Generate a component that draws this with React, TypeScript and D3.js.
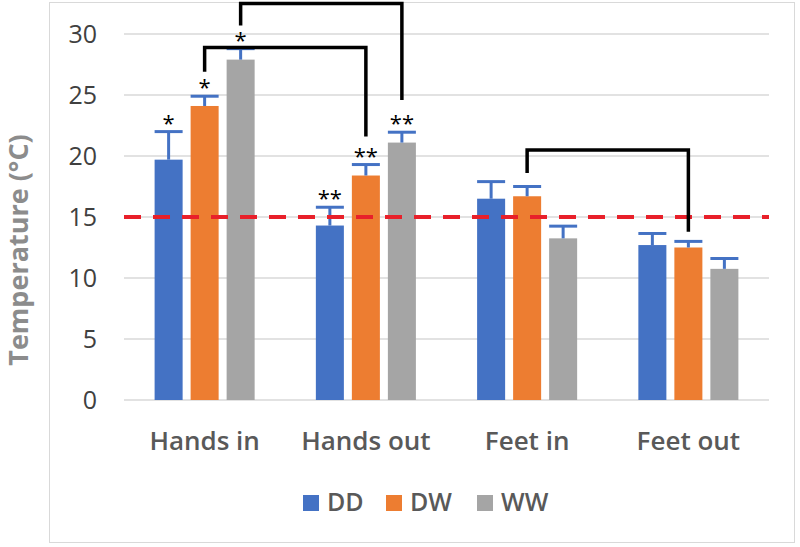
import React, { useEffect, useRef } from 'react';
import * as d3 from 'd3';

const categories = ["Hands in", "Hands out", "Feet in", "Feet out"];
const seriesNames = ["DD", "DW", "WW"];
const seriesColors = ["#4472C4", "#ED7D31", "#A5A5A5"];

// mean temperature per category, one array per group
const ddValues = [19.7, 14.3, 16.5, 12.7];
const dwValues = [24.1, 18.4, 16.7, 12.5];
const wwValues = [27.9, 21.1, 13.25, 10.75];

// upper error (SD) per category
const ddErrors = [2.3, 1.5, 1.4, 0.95];
const dwErrors = [0.8, 0.9, 0.8, 0.5];
const wwErrors = [0.9, 0.85, 1.0, 0.85];

// significance marks above error bars
const ddStars = ["*", "**", "", ""];
const dwStars = ["*", "**", "", ""];
const wwStars = ["*", "**", "", ""];

const yTicks = [0, 5, 10, 15, 20, 25, 30];
const threshold = 15;

// comparison brackets: [category, series] -> [category, series], heights in °C
const brackets = [
    { fromCat: "Hands in", fromSeries: "DW", toCat: "Hands out", toSeries: "DW", startY: 26.9, top: 28.9, endY: 21.6 },
    { fromCat: "Hands in", fromSeries: "WW", toCat: "Hands out", toSeries: "WW", startY: 30.7, top: 32.5, endY: 24.6 },
    { fromCat: "Feet in", fromSeries: "DW", toCat: "Feet out", toSeries: "DW", startY: 18.6, top: 20.5, endY: 13.8 },
];

const App = () => {
    const svgRef = useRef<SVGSVGElement | null>(null);

    useEffect(() => {
        const width = 800;
        const height = 547;
        const font = "'Open Sans', sans-serif";

        const svg = d3.select(svgRef.current);
        svg.selectAll("*").remove();
        svg.attr("width", width).attr("height", height);

        const values = [ddValues, dwValues, wwValues];
        const errors = [ddErrors, dwErrors, wwErrors];
        const stars = [ddStars, dwStars, wwStars];

        const data = categories.flatMap((c, ci) =>
            seriesNames.map((s, si) => ({
                cat: c,
                series: s,
                color: seriesColors[si],
                value: values[si][ci],
                err: errors[si][ci],
                star: stars[si][ci],
            }))
        );

        const x0 = d3.scaleBand().domain(categories).range([124, 769]).padding(0);
        const x1 = d3.scaleBand().domain(seriesNames).range([0, x0.bandwidth()])
            .paddingInner(0.222).paddingOuter(0.85);
        const y = d3.scaleLinear().domain([0, 30]).range([400, 34]);

        const cx = (c: string, s: string) => (x0(c) as number) + (x1(s) as number) + x1.bandwidth() / 2;

        // chart border
        svg.append("rect")
            .attr("x", 49.5).attr("y", 2.5)
            .attr("width", 745).attr("height", 540)
            .attr("fill", "white")
            .attr("stroke", "#d9d9d9");

        // gridlines
        svg.append("g")
            .selectAll("line")
            .data(yTicks)
            .enter()
            .append("line")
            .attr("x1", 124).attr("x2", 769)
            .attr("y1", d => y(d)).attr("y2", d => y(d))
            .attr("stroke", "#d9d9d9")
            .attr("stroke-width", 1.5);

        // y tick labels
        svg.append("g")
            .selectAll("text")
            .data(yTicks)
            .enter()
            .append("text")
            .attr("x", 97)
            .attr("y", d => y(d))
            .attr("dy", "0.36em")
            .attr("text-anchor", "end")
            .style("font-family", font)
            .style("font-size", "25px")
            .attr("fill", "#404040")
            .text(d => d);

        // y-axis title
        svg.append("text")
            .attr("transform", "translate(28,250) rotate(-90)")
            .attr("text-anchor", "middle")
            .style("font-family", font)
            .style("font-size", "27px")
            .style("font-weight", "bold")
            .attr("fill", "#8c8c8c")
            .text("Temperature (°C)");

        // bars
        svg.append("g")
            .selectAll("rect")
            .data(data)
            .enter()
            .append("rect")
            .attr("x", d => (x0(d.cat) as number) + (x1(d.series) as number))
            .attr("y", d => y(d.value))
            .attr("width", x1.bandwidth())
            .attr("height", d => y(0) - y(d.value))
            .attr("fill", d => d.color);

        // error bars (plus only)
        const eb = svg.append("g")
            .attr("stroke", "#4472C4")
            .attr("stroke-width", 3);
        eb.selectAll("line.v")
            .data(data)
            .enter()
            .append("line")
            .attr("x1", d => cx(d.cat, d.series))
            .attr("x2", d => cx(d.cat, d.series))
            .attr("y1", d => y(d.value))
            .attr("y2", d => y(d.value + d.err));
        eb.selectAll("line.h")
            .data(data)
            .enter()
            .append("line")
            .attr("x1", d => cx(d.cat, d.series) - x1.bandwidth() / 2)
            .attr("x2", d => cx(d.cat, d.series) + x1.bandwidth() / 2)
            .attr("y1", d => y(d.value + d.err))
            .attr("y2", d => y(d.value + d.err));

        // threshold line
        svg.append("line")
            .attr("x1", 124).attr("x2", 769)
            .attr("y1", y(threshold)).attr("y2", y(threshold))
            .attr("stroke", "#E8202A")
            .attr("stroke-width", 4)
            .attr("stroke-dasharray", "17 12");

        // stars
        svg.append("g")
            .selectAll("text")
            .data(data.filter(d => d.star))
            .enter()
            .append("text")
            .attr("x", d => cx(d.cat, d.series))
            .attr("y", d => y(d.value + d.err) - 1)
            .attr("text-anchor", "middle")
            .style("font-family", font)
            .style("font-size", "22px")
            .attr("fill", "#000")
            .text(d => d.star);

        // brackets
        svg.append("g")
            .selectAll("path")
            .data(brackets)
            .enter()
            .append("path")
            .attr("d", b => {
                const xa = cx(b.fromCat, b.fromSeries);
                const xb = cx(b.toCat, b.toSeries);
                return `M${xa},${y(b.startY)}V${y(b.top)}H${xb}V${y(b.endY)}`;
            })
            .attr("fill", "none")
            .attr("stroke", "#000")
            .attr("stroke-width", 3.5);

        // category labels
        svg.append("g")
            .selectAll("text")
            .data(categories)
            .enter()
            .append("text")
            .attr("x", d => (x0(d) as number) + x0.bandwidth() / 2)
            .attr("y", 450)
            .attr("text-anchor", "middle")
            .style("font-family", font)
            .style("font-size", "26px")
            .style("font-weight", 600)
            .attr("fill", "#595959")
            .text(d => d);

        // legend
        const legendX = [303, 386, 477];
        const legend = svg.append("g")
            .selectAll("g")
            .data(seriesNames)
            .enter()
            .append("g")
            .attr("transform", (d, i) => `translate(${legendX[i]},495)`);
        legend.append("rect")
            .attr("width", 16).attr("height", 16)
            .attr("fill", (d, i) => seriesColors[i]);
        legend.append("text")
            .attr("x", 24)
            .attr("y", 16)
            .style("font-family", font)
            .style("font-size", "25px")
            .style("font-weight", 600)
            .attr("fill", "#595959")
            .text(d => d);
    }, []);

    return (
        <svg ref={svgRef} style={{ position: "absolute", left: 0, top: 0, display: "block" }}></svg>
    );
};

export default App;
